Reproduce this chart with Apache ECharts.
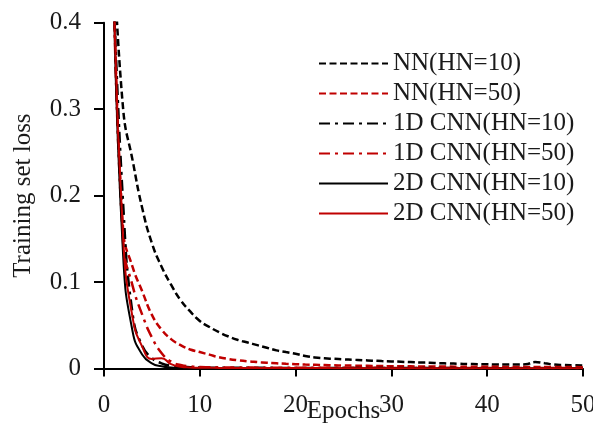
<!DOCTYPE html>
<html>
<head>
<meta charset="utf-8">
<script src="https://cdn.jsdelivr.net/npm/echarts@6/dist/echarts.min.js"></script>
<style>
  html, body { margin: 0; padding: 0; background: #fff; }
  #chart { width: 593px; height: 432px; }
</style>
</head>
<body>
<div id="chart"></div>
<script>
// Training-set loss per epoch for the six network configurations.
var epochs = [1, 2, 3, 4, 5, 6, 7, 8, 9, 10,
              11, 12, 13, 14, 15, 16, 17, 18, 19, 20,
              21, 22, 23, 24, 25, 26, 27, 28, 29, 30,
              31, 32, 33, 34, 35, 36, 37, 38, 39, 40,
              41, 42, 43, 44, 45, 46, 47, 48, 49, 50];

var nnHn10 = [0.49, 0.30, 0.24, 0.185, 0.145, 0.118, 0.097, 0.079, 0.066, 0.055,
              0.048, 0.042, 0.037, 0.033, 0.030, 0.027, 0.024, 0.021, 0.019, 0.017,
              0.0145, 0.0128, 0.0118, 0.0112, 0.0106, 0.0101, 0.0096, 0.0091, 0.0086, 0.0082,
              0.0078, 0.0074, 0.0070, 0.0066, 0.0062, 0.0058, 0.0055, 0.0052, 0.0050, 0.0048,
              0.0047, 0.0046, 0.0046, 0.0048, 0.0074, 0.0062, 0.0045, 0.0040, 0.0037, 0.0035];

var nnHn50 = [0.47, 0.16, 0.117, 0.089, 0.062, 0.045, 0.034, 0.027, 0.022, 0.019,
              0.016, 0.013, 0.011, 0.0095, 0.0083, 0.0074, 0.0066, 0.0060, 0.0054, 0.0050,
              0.0046, 0.0043, 0.0040, 0.0037, 0.0035, 0.0033, 0.0031, 0.0030, 0.0028, 0.0027,
              0.0026, 0.0025, 0.0024, 0.0023, 0.0022, 0.0022, 0.0021, 0.0020, 0.0020, 0.0019,
              0.0019, 0.0018, 0.0018, 0.0018, 0.0017, 0.0017, 0.0016, 0.0016, 0.0016, 0.0015];

var cnn1dHn10 = [0.44, 0.19, 0.062, 0.026, 0.012, 0.006, 0.003, 0.002, 0.0015, 0.0012,
                 0.0010, 0.0010, 0.0009, 0.0009, 0.0008, 0.0008, 0.0008, 0.0007, 0.0007, 0.0007,
                 0.0007, 0.0006, 0.0006, 0.0006, 0.0006, 0.0006, 0.0006, 0.0005, 0.0005, 0.0005,
                 0.0005, 0.0005, 0.0005, 0.0005, 0.0005, 0.0005, 0.0004, 0.0004, 0.0004, 0.0004,
                 0.0004, 0.0004, 0.0004, 0.0004, 0.0004, 0.0004, 0.0004, 0.0004, 0.0004, 0.0004];

var cnn1dHn50 = [0.46, 0.145, 0.095, 0.062, 0.036, 0.018, 0.008, 0.004, 0.0025, 0.0018,
                 0.0015, 0.0013, 0.0012, 0.0011, 0.0011, 0.0010, 0.0010, 0.0010, 0.0009, 0.0009,
                 0.0009, 0.0009, 0.0008, 0.0008, 0.0008, 0.0008, 0.0008, 0.0008, 0.0007, 0.0007,
                 0.0007, 0.0007, 0.0007, 0.0007, 0.0007, 0.0006, 0.0006, 0.0006, 0.0006, 0.0006,
                 0.0006, 0.0006, 0.0006, 0.0006, 0.0006, 0.0006, 0.0005, 0.0005, 0.0005, 0.0005];

var cnn2dHn10 = [0.45, 0.13, 0.042, 0.016, 0.006, 0.0025, 0.0012, 0.0008, 0.0006, 0.0005,
                 0.0004, 0.0004, 0.0004, 0.0003, 0.0003, 0.0003, 0.0003, 0.0003, 0.0003, 0.0003,
                 0.0003, 0.0003, 0.0003, 0.0003, 0.0002, 0.0002, 0.0002, 0.0002, 0.0002, 0.0002,
                 0.0002, 0.0002, 0.0002, 0.0002, 0.0002, 0.0002, 0.0002, 0.0002, 0.0002, 0.0002,
                 0.0002, 0.0002, 0.0002, 0.0002, 0.0002, 0.0002, 0.0002, 0.0002, 0.0002, 0.0002];

var cnn2dHn50 = [0.45, 0.15, 0.058, 0.025, 0.011, 0.012, 0.005, 0.002, 0.0012, 0.0009,
                 0.0008, 0.0007, 0.0007, 0.0006, 0.0006, 0.0006, 0.0005, 0.0005, 0.0005, 0.0005,
                 0.0005, 0.0005, 0.0005, 0.0004, 0.0004, 0.0004, 0.0004, 0.0004, 0.0004, 0.0004,
                 0.0004, 0.0004, 0.0004, 0.0004, 0.0004, 0.0004, 0.0004, 0.0004, 0.0004, 0.0004,
                 0.0004, 0.0004, 0.0004, 0.0004, 0.0004, 0.0004, 0.0004, 0.0004, 0.0004, 0.0004];

var seriesNames = ['NN(HN=10)', 'NN(HN=50)', '1D CNN(HN=10)', '1D CNN(HN=50)', '2D CNN(HN=10)', '2D CNN(HN=50)'];
var xTicks = [0, 10, 20, 30, 40, 50];
var yTicks = [0, 0.1, 0.2, 0.3, 0.4];

var BLACK = '#000000';
var RED = '#C00000';
var TEXT = '#1a1a1a';
var FONT = '"Liberation Serif", serif';
var DASH = [7, 3.5];
var DASH_DOT = [11, 5, 3, 5];

function pairs(values) {
  return epochs.map(function (e, i) { return [e, values[i]]; });
}

function lineSeries(name, values, color, type, width) {
  return {
    name: name,
    type: 'line',
    data: pairs(values),
    showSymbol: false,
    symbol: 'none',
    smooth: 0.5,
    clip: true,
    lineStyle: { color: color, width: width, type: type },
    itemStyle: { color: color },
    z: 3
  };
}

var chart = echarts.init(document.getElementById('chart'), null, { renderer: 'canvas' });

chart.setOption({
  animation: false,
  backgroundColor: '#ffffff',
  grid: {
    left: 104, right: 10, top: 22.7, bottom: 63.5,
    containLabel: false,
    outerBoundsMode: 'none'
  },
  legend: {
    orient: 'vertical',
    left: 313,
    top: 46,
    itemWidth: 69,
    itemHeight: 14,
    itemGap: 5,
    data: seriesNames,
    itemStyle: { opacity: 0 },
    textStyle: { fontFamily: FONT, fontSize: 25, lineHeight: 24, color: TEXT }
  },
  xAxis: {
    type: 'value',
    min: xTicks[0],
    max: xTicks[xTicks.length - 1],
    interval: xTicks[1] - xTicks[0],
    name: 'Epochs',
    nameLocation: 'middle',
    nameGap: 30,
    nameMoveOverlap: false,
    nameTextStyle: { fontFamily: FONT, fontSize: 25, color: TEXT },
    axisLine: { onZero: true, lineStyle: { color: BLACK, width: 2 } },
    axisTick: { show: true, inside: false, length: 8, lineStyle: { color: BLACK, width: 2 } },
    axisLabel: { fontFamily: FONT, fontSize: 25, color: TEXT, margin: 24 },
    splitLine: { show: false }
  },
  yAxis: {
    type: 'value',
    min: yTicks[0],
    max: yTicks[yTicks.length - 1],
    interval: yTicks[1] - yTicks[0],
    name: 'Training set loss',
    nameLocation: 'middle',
    nameGap: 68,
    nameMoveOverlap: false,
    nameTextStyle: { fontFamily: FONT, fontSize: 25, color: TEXT },
    axisLine: { show: true, lineStyle: { color: BLACK, width: 2 } },
    axisTick: { show: true, inside: false, length: 10, lineStyle: { color: BLACK, width: 2 } },
    axisLabel: { fontFamily: FONT, fontSize: 25, color: TEXT, margin: 23 },
    splitLine: { show: false }
  },
  series: [
    lineSeries(seriesNames[0], nnHn10, BLACK, DASH, 2.5),
    lineSeries(seriesNames[1], nnHn50, RED, DASH, 2.5),
    lineSeries(seriesNames[2], cnn1dHn10, BLACK, DASH_DOT, 2.5),
    lineSeries(seriesNames[3], cnn1dHn50, RED, DASH_DOT, 2.5),
    lineSeries(seriesNames[4], cnn2dHn10, BLACK, 'solid', 2),
    lineSeries(seriesNames[5], cnn2dHn50, RED, 'solid', 2)
  ]
});
</script>
</body>
</html>
